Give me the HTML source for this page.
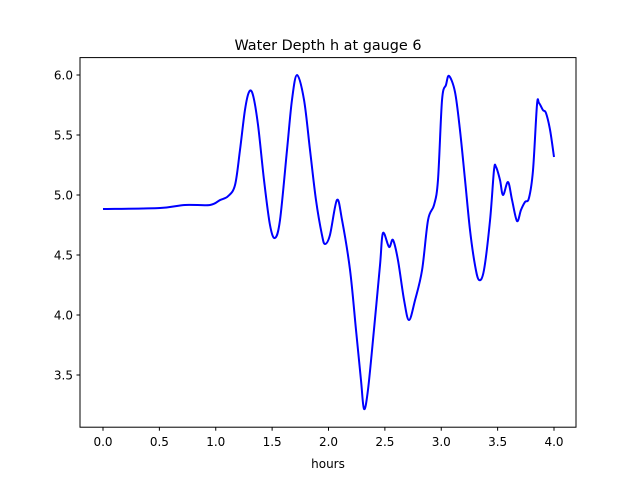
<!DOCTYPE html>
<html><head><meta charset="utf-8"><style>
body{margin:0;background:#fff;}
svg text{font-family:"DejaVu Sans","Liberation Sans",sans-serif;fill:#000;}
</style></head><body>
<svg id="chart" width="640" height="480">
<rect width="640" height="480" fill="#fff"/>
<text x="328" y="50" font-size="14.4" text-anchor="middle">Water Depth h at gauge 6</text>
<text x="328" y="468" font-size="12" text-anchor="middle">hours</text>
<g id="xticks"></g>
<g id="yticks"></g>
<path id="line" fill="none" stroke="#0000ff" stroke-width="2" stroke-linejoin="round"/>
<rect x="80" y="57.6" width="496" height="369.6" fill="none" stroke="#000" stroke-width="1"/>
</svg>
<script>
const hours=[0,0.506,0.727,0.949,1.038,1.109,1.171,1.215,1.259,1.295,1.330,1.375,1.428,1.481,1.525,1.570,1.632,1.676,1.721,1.783,1.836,1.889,1.942,1.969,2.013,2.075,2.120,2.191,2.244,2.288,2.315,2.350,2.403,2.457,2.483,2.537,2.572,2.616,2.670,2.714,2.768,2.830,2.883,2.936,2.971,3.007,3.042,3.069,3.122,3.166,3.211,3.255,3.299,3.335,3.379,3.433,3.468,3.486,3.521,3.548,3.592,3.628,3.672,3.707,3.743,3.778,3.814,3.849,3.867,3.902,3.929,3.965,4.0];
const depth=[4.883,4.892,4.917,4.917,4.958,4.99,5.083,5.375,5.708,5.858,5.833,5.583,5.125,4.75,4.642,4.792,5.375,5.792,6.0,5.792,5.375,4.958,4.667,4.592,4.667,4.958,4.792,4.375,3.875,3.458,3.217,3.375,3.875,4.417,4.683,4.567,4.625,4.458,4.125,3.958,4.125,4.375,4.792,4.917,5.125,5.792,5.917,5.992,5.858,5.542,5.125,4.708,4.417,4.292,4.375,4.792,5.208,5.233,5.125,5.0,5.108,4.958,4.783,4.875,4.942,4.975,5.208,5.75,5.767,5.708,5.683,5.542,5.317];
const xTickLabels=["0.0","0.5","1.0","1.5","2.0","2.5","3.0","3.5","4.0"];
const yTickLabels=["3.5","4.0","4.5","5.0","5.5","6.0"];
const X=v=>103+v*112.75;
const Y=v=>75+(6-v)*120;
const NS="http://www.w3.org/2000/svg";
const xg=document.getElementById('xticks'),yg=document.getElementById('yticks');
xTickLabels.forEach(t=>{const v=parseFloat(t),x=X(v);
 const l=document.createElementNS(NS,'line');l.setAttribute('x1',x);l.setAttribute('x2',x);l.setAttribute('y1',427.2);l.setAttribute('y2',430.7);l.setAttribute('stroke','#000');
 
 
 xg.appendChild(l);
 const s=document.createElementNS(NS,'text');s.setAttribute('x',x);s.setAttribute('y',446);s.setAttribute('font-size','12');s.setAttribute('text-anchor','middle');s.textContent=t;
 
 
 xg.appendChild(s);});
yTickLabels.forEach(t=>{const v=parseFloat(t),y=Y(v);
 const l=document.createElementNS(NS,'line');l.setAttribute('x1',76.5);l.setAttribute('x2',80);l.setAttribute('y1',y);l.setAttribute('y2',y);l.setAttribute('stroke','#000');
 
 
 yg.appendChild(l);
 const s=document.createElementNS(NS,'text');s.setAttribute('x',73);s.setAttribute('y',y+4.5);s.setAttribute('font-size','12');s.setAttribute('text-anchor','end');s.textContent=t;
 
 
 yg.appendChild(s);});
// Catmull-Rom smoothing
const P=hours.map((h,i)=>[X(h),Y(depth[i])]);
let d='M'+P[0][0]+','+P[0][1];
for(let i=0;i<P.length-1;i++){const p0=P[Math.max(0,i-1)],p1=P[i],p2=P[i+1],p3=P[Math.min(P.length-1,i+2)];
 const c1=[p1[0]+(p2[0]-p0[0])/6,p1[1]+(p2[1]-p0[1])/6],c2=[p2[0]-(p3[0]-p1[0])/6,p2[1]-(p3[1]-p1[1])/6];
 d+=' C'+c1+' '+c2+' '+p2;}
document.getElementById('line').setAttribute('d',d);
</script>
</body></html>
